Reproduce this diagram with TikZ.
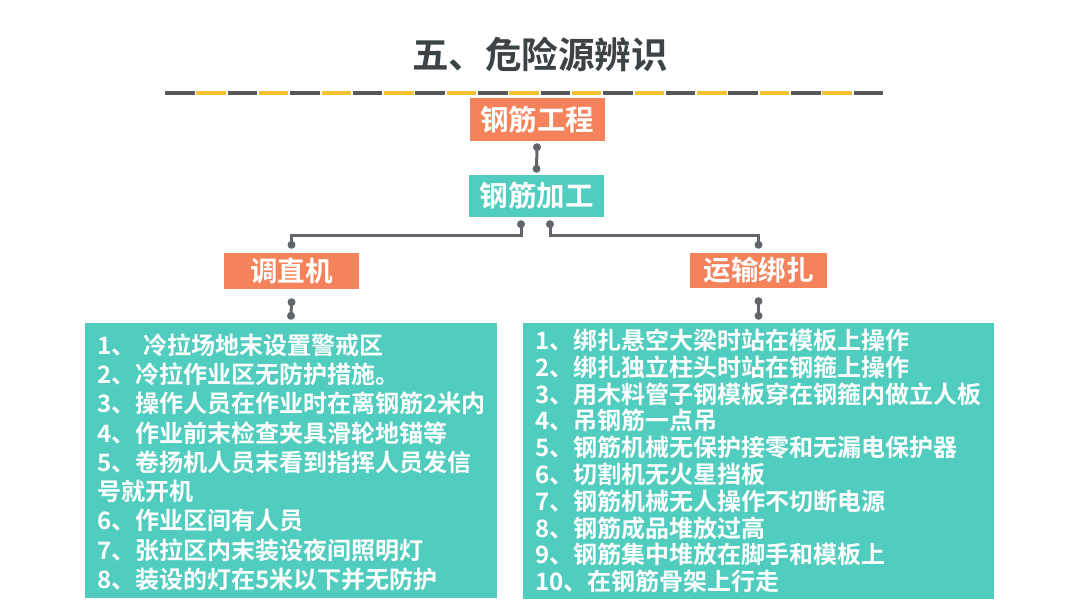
\documentclass[tikz,border=0pt]{standalone}
\usepackage{fontspec}
\setmainfont{Noto Sans CJK SC}[BoldFont={Noto Sans CJK SC Bold}]
\usetikzlibrary{positioning}
\definecolor{boxorange}{HTML}{F4825A}
\definecolor{boxteal}{HTML}{50CDBE}
\definecolor{linkgray}{HTML}{62666A}
\definecolor{titlegray}{HTML}{3C4347}
\definecolor{dashgray}{HTML}{55595C}
\definecolor{dashyellow}{HTML}{F2C230}

\begin{document}
\begin{tikzpicture}[x=1pt,y=-1pt,
    orangebox/.style={fill=boxorange,text=white,inner sep=0pt,font=\fontsize{27.5}{30}\selectfont\bfseries},
    tealbox/.style={fill=boxteal,text=white,inner sep=0pt,font=\fontsize{28.5}{30}\selectfont\bfseries},
    listbox/.style={fill=boxteal,text=white,align=left,inner xsep=12pt,inner ysep=0pt},
    link/.style={draw=linkgray,line width=3pt},
    dotend/.style={fill=linkgray}]
        \useasboundingbox (0,0) rectangle (1080,608);

        \node[text=titlegray,font=\fontsize{36.5}{40}\selectfont\bfseries] (title) at (540,54) {五、危险源辨识};
        \foreach \i in {0,2,...,22}
          \draw[dashgray,line width=4pt] ({165+31.3*\i},93) -- ++(29.5,0);
        \foreach \i in {1,3,...,21}
          \draw[dashyellow,line width=4pt] ({165+31.3*\i},93) -- ++(29.5,0);

        \node[orangebox,minimum width=135pt,minimum height=43pt,font=\fontsize{28.5}{30}\selectfont\bfseries] (top) at (537,119.5) {钢筋工程};
        \node[tealbox,minimum width=135pt,minimum height=42pt] (mid) at (536.5,196) {钢筋加工};
        \node[orangebox,minimum width=135pt,minimum height=36pt] (left) at (291.5,271) {调直机};
        \node[orangebox,minimum width=137pt,minimum height=35pt] (right) at (758.5,270.5) {运输绑扎};

        \node[listbox,text width=388pt,minimum height=275pt,font=\fontsize{24}{29.3}\selectfont\bfseries] (leftlist) at (291,460.5) {%
          \rule{0pt}{24pt}1、\hspace*{8pt}冷拉场地末设置警戒区\\
          2、冷拉作业区无防护措施。\\
          3、操作人员在作业时在离钢筋2米内\\
          4、作业前末检查夹具滑轮地锚等\\
          5、卷扬机人员末看到指挥人员发信\\
          号就开机\\
          6、作业区间有人员\\
          7、张拉区内末装设夜间照明灯\\
          8、装设的灯在5米以下并无防护};
        \node[listbox,text width=447pt,minimum height=276pt,font=\fontsize{24}{26.8}\selectfont\bfseries] (rightlist) at (758.5,461) {%
          1、绑扎悬空大梁时站在模板上操作\\
          2、绑扎独立柱头时站在钢箍上操作\\
          3、用木料管子钢模板穿在钢箍内做立人板\\
          4、吊钢筋一点吊\\
          5、钢筋机械无保护接零和无漏电保护器\\
          6、切割机无火星挡板\\
          7、钢筋机械无人操作不切断电源\\
          8、钢筋成品堆放过高\\
          9、钢筋集中堆放在脚手和模板上\\
          10、在钢筋骨架上行走};

        \coordinate[below=6pt of top] (t1);
        \coordinate[above=6pt of mid] (t2);
        \coordinate (m1) at ([xshift=-15.5pt,yshift=-7pt]mid.south);
        \coordinate (m2) at ([xshift=13.5pt,yshift=-7pt]mid.south);
        \coordinate[above=8pt of left] (l1);
        \coordinate[above=8pt of right] (r1);
        \coordinate[below=13pt of left] (l2);
        \coordinate[above=7pt of leftlist] (l3);
        \coordinate[below=13pt of right] (r2);
        \coordinate[above=7pt of rightlist] (r3);

        \draw[link] (t1) -- (t2);
        \draw[link] (m1) -- ++(0,11) -| (l1);
        \draw[link] (m2) -- ++(0,11) -| (r1);
        \draw[link] (l2) -- (l3);
        \draw[link] (r2) -- (r3);
        \foreach \p in {t1,t2,m1,m2,l1,r1,l2,l3,r2,r3}
          \fill[dotend] (\p) circle (4);
      \end{tikzpicture}
\end{document}
